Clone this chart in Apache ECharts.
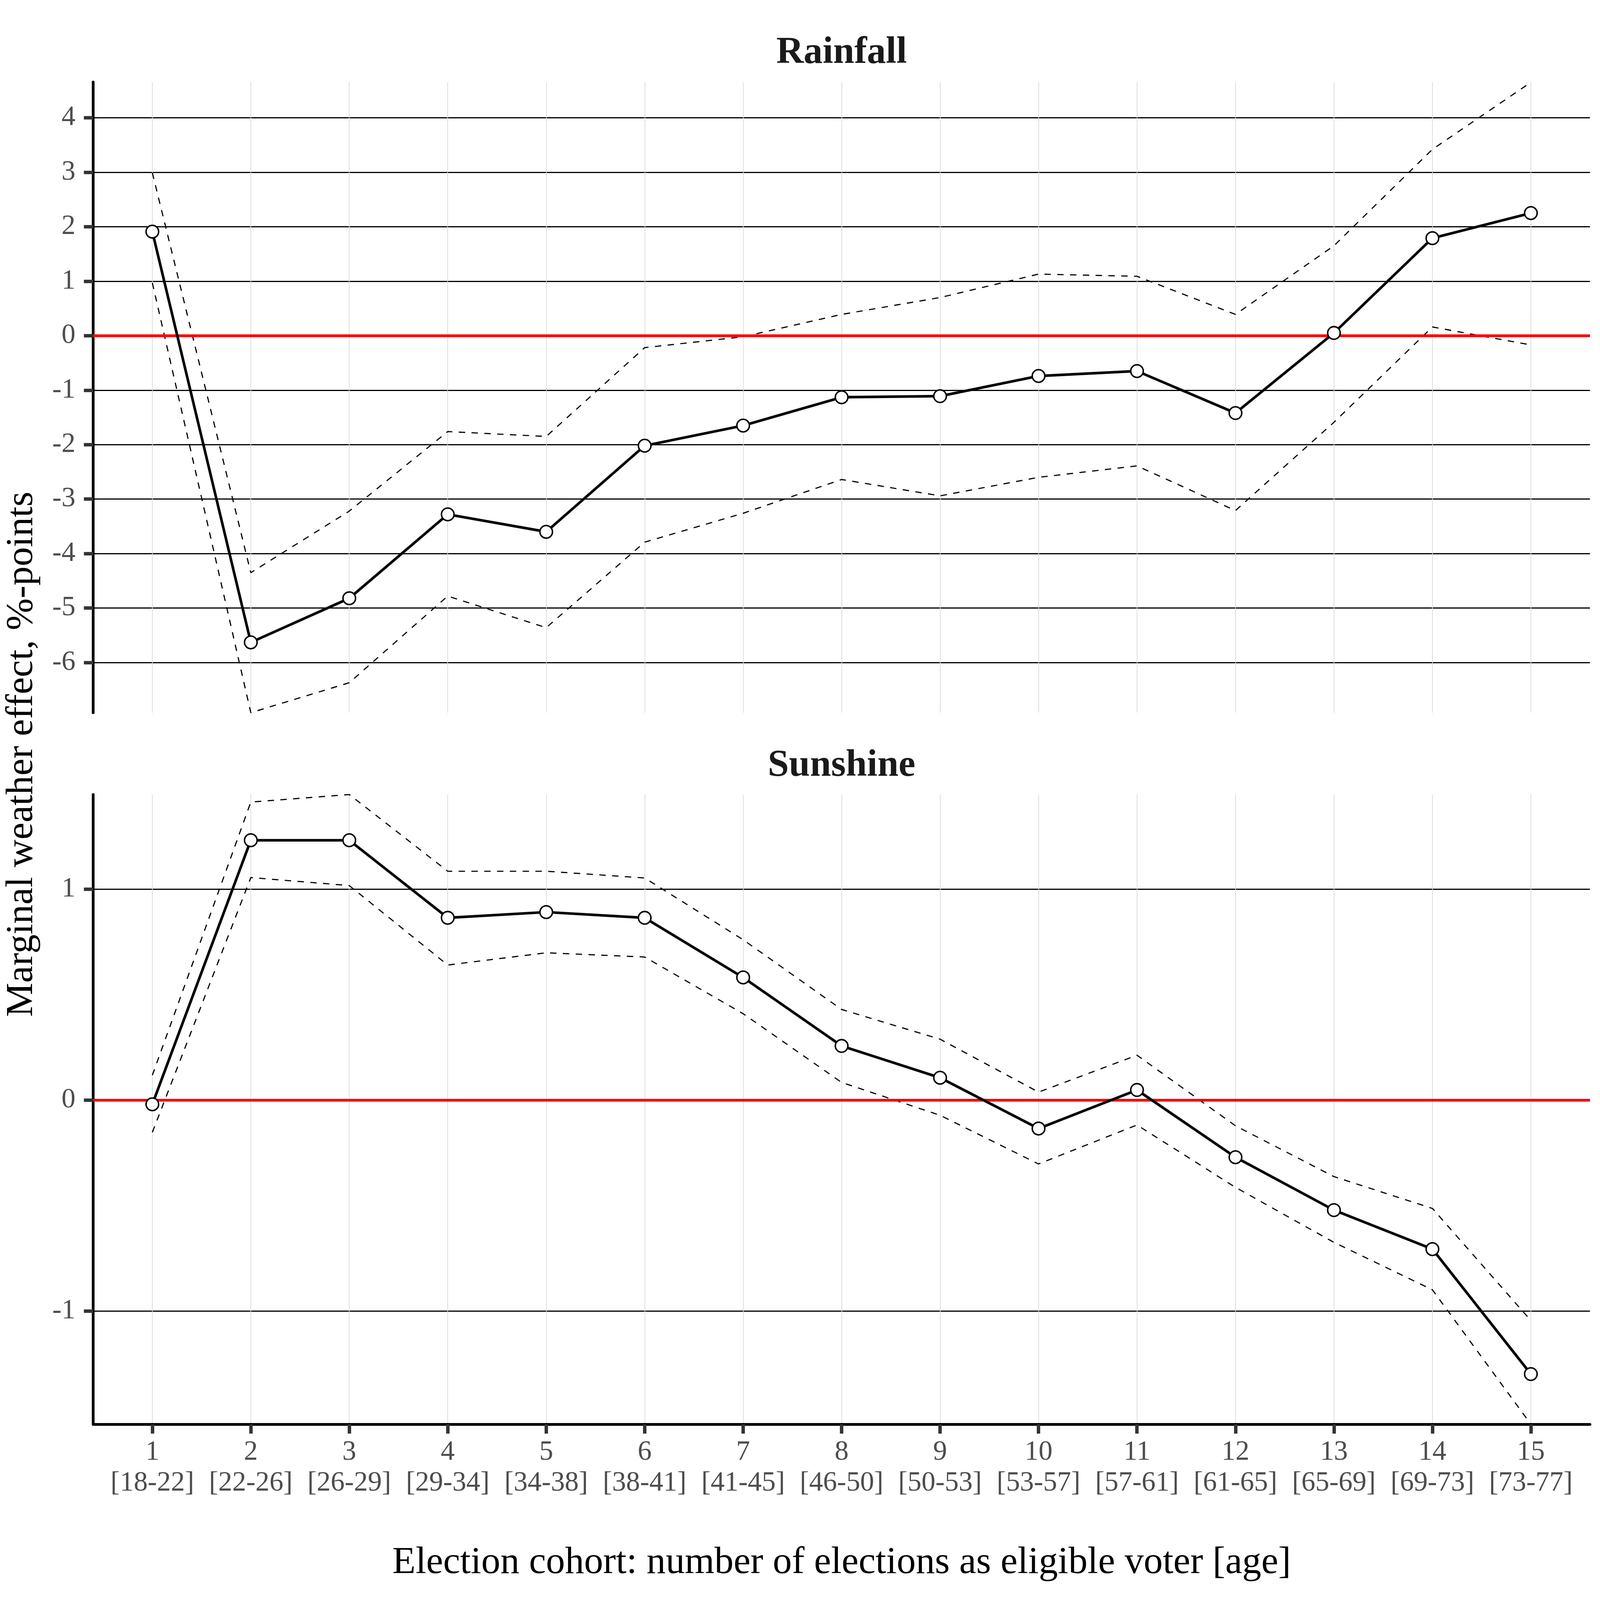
<!DOCTYPE html>
<html>
<head>
<meta charset="utf-8">
<script src="https://cdn.jsdelivr.net/npm/echarts@6/dist/echarts.min.js"></script>
<style>html,body{margin:0;padding:0;background:#fff;overflow:hidden}#c{width:100vw;height:100vh}</style>
</head>
<body>
<div id="c"></div>
<script>
const cohorts = [1,2,3,4,5,6,7,8,9,10,11,12,13,14,15];
const ageRanges = ['[18-22]','[22-26]','[26-29]','[29-34]','[34-38]','[38-41]','[41-45]','[46-50]','[50-53]','[53-57]','[57-61]','[61-65]','[65-69]','[69-73]','[73-77]'];

const rainEst = [1.91, -5.63, -4.82, -3.28, -3.60, -2.02, -1.65, -1.13, -1.11, -0.74, -0.65, -1.42, 0.05, 1.79, 2.25];
const rainHi  = [2.99, -4.35, -3.22, -1.76, -1.85, -0.22, -0.02, 0.39, 0.70, 1.13, 1.09, 0.39, 1.65, 3.42, 4.65];
const rainLo  = [0.97, -6.92, -6.37, -4.78, -5.36, -3.79, -3.26, -2.64, -2.94, -2.60, -2.39, -3.21, -1.59, 0.16, -0.17];

const sunEst = [-0.02, 1.233, 1.233, 0.865, 0.892, 0.865, 0.582, 0.257, 0.106, -0.135, 0.048, -0.271, -0.522, -0.707, -1.30];
const sunHi  = [0.118, 1.414, 1.45, 1.086, 1.086, 1.054, 0.761, 0.43, 0.289, 0.038, 0.213, -0.122, -0.363, -0.514, -1.046];
const sunLo  = [-0.153, 1.056, 1.018, 0.641, 0.699, 0.679, 0.41, 0.084, -0.072, -0.303, -0.118, -0.414, -0.675, -0.90, -1.538];

const rainTicks = [-6,-5,-4,-3,-2,-1,0,1,2,3,4];
const sunTicks = [-1,0,1];
const rainRange = [-6.92, 4.655];
const sunRange = [-1.538, 1.45];
const xRange = [0.4, 15.6];

const el = document.getElementById('c');
const S = Math.min(el.clientWidth || window.innerWidth, el.clientHeight || window.innerHeight) / 7000;
const px = v => v * S;
const FONT = 'Liberation Serif';
const pairs = arr => cohorts.map((c, i) => [c, arr[i]]);

function xAxisDef(gridIndex, showAxis) {
  return {
    type: 'value', gridIndex, min: xRange[0], max: xRange[1],
    axisLine: { show: showAxis, onZero: false, lineStyle: { color: '#000', width: px(12) } },
    axisTick: { show: showAxis, customValues: cohorts, length: px(41), lineStyle: { color: '#333', width: px(15) } },
    axisLabel: {
      show: showAxis, customValues: cohorts, margin: px(55),
      fontFamily: FONT, fontSize: px(122), color: '#4d4d4d', lineHeight: px(136),
      formatter: v => v + '\n' + ageRanges[Math.round(v) - 1]
    },
    splitLine: { show: true, lineStyle: { color: '#dadada', width: px(3) } }
  };
}
function yAxisDef(gridIndex, range, ticks) {
  return {
    type: 'value', gridIndex, min: range[0], max: range[1],
    axisLine: { show: true, onZero: false, lineStyle: { color: '#000', width: px(12) } },
    axisTick: { show: true, customValues: ticks, length: px(41), lineStyle: { color: '#333', width: px(15) } },
    axisLabel: { customValues: ticks, margin: px(78), fontFamily: FONT, fontSize: px(122), color: '#4d4d4d' },
    splitLine: { show: true, lineStyle: { color: '#000', width: px(5) } }
  };
}
function dashed(idx, arr, z, withZero) {
  const s = {
    type: 'line', xAxisIndex: idx, yAxisIndex: idx, data: pairs(arr), z,
    symbol: 'none', silent: true,
    lineStyle: { color: '#000', width: px(5), type: [px(28), px(28)] }
  };
  if (withZero) {
    s.markLine = {
      silent: true, symbol: 'none', label: { show: false },
      lineStyle: { color: '#ff0000', width: px(12), type: 'solid' },
      data: [{ yAxis: 0 }]
    };
  }
  return s;
}
function main(idx, arr) {
  return {
    type: 'line', xAxisIndex: idx, yAxisIndex: idx, data: pairs(arr), z: 5,
    symbol: 'circle', symbolSize: px(55), showSymbol: true, silent: true,
    lineStyle: { color: '#000', width: px(11.5) },
    itemStyle: { color: '#fff', borderColor: '#000', borderWidth: px(6.5) }
  };
}
function txt(x, y, text, font, fill, rot) {
  const g = { type: 'text', x: px(x), y: px(y), style: { text, font, fill, textAlign: 'center', textVerticalAlign: 'middle' } };
  if (rot) g.rotation = rot;
  return g;
}

const chart = echarts.init(el, null, { renderer: 'canvas' });
chart.setOption({
  animation: false,
  backgroundColor: '#fff',
  grid: [
    { left: px(408), top: px(359), width: px(6548), height: px(2759) },
    { left: px(408), top: px(3476), width: px(6548), height: px(2755) }
  ],
  xAxis: [xAxisDef(0, false), xAxisDef(1, true)],
  yAxis: [yAxisDef(0, rainRange, rainTicks), yAxisDef(1, sunRange, sunTicks)],
  series: [
    dashed(0, rainLo, 3, false), dashed(0, rainHi, 4, true), main(0, rainEst),
    dashed(1, sunLo, 3, false), dashed(1, sunHi, 4, true), main(1, sunEst)
  ],
  graphic: [
    txt(3682, 232, 'Rainfall', 'bold ' + px(166) + 'px "Liberation Serif"', '#1a1a1a'),
    txt(3682, 3352, 'Sunshine', 'bold ' + px(166) + 'px "Liberation Serif"', '#1a1a1a'),
    txt(96, 3300, 'Marginal weather effect, %-points', px(168) + 'px "Liberation Serif"', '#000', Math.PI / 2),
    txt(3682, 6838, 'Election cohort: number of elections as eligible voter [age]', px(167) + 'px "Liberation Serif"', '#000')
  ]
});
</script>
</body>
</html>
